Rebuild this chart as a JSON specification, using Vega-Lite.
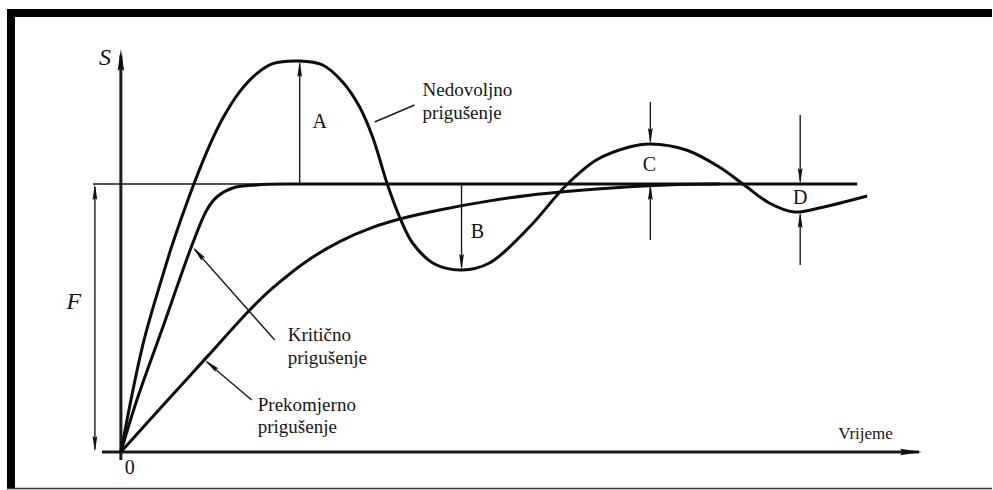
{
  "$schema": "https://vega.github.io/schema/vega-lite/v6.json",
  "width": 993,
  "height": 490,
  "autosize": {"type": "fit", "contains": "padding"},
  "padding": 0,
  "background": "white",
  "config": {"view": {"stroke": null}, "text": {"font": "Liberation Serif"}},
  "datasets": {
    "frame": [
      {"part": "left", "t": -1.14, "t2": -1.06, "s": -0.1343, "s2": 1.653},
      {"part": "top", "t": -1.14, "t2": 8.72, "s": 1.6231, "s2": 1.653}
    ],
    "curves": [
      {"curve": "Nedovoljno", "t": 0, "s": 0},
      {"curve": "Nedovoljno", "t": 0.22, "s": 0.4},
      {"curve": "Nedovoljno", "t": 0.42, "s": 0.66},
      {"curve": "Nedovoljno", "t": 0.52, "s": 0.78},
      {"curve": "Nedovoljno", "t": 0.69, "s": 0.96},
      {"curve": "Nedovoljno", "t": 0.86, "s": 1.12},
      {"curve": "Nedovoljno", "t": 1.02, "s": 1.245},
      {"curve": "Nedovoljno", "t": 1.19, "s": 1.345},
      {"curve": "Nedovoljno", "t": 1.36, "s": 1.412},
      {"curve": "Nedovoljno", "t": 1.52, "s": 1.449},
      {"curve": "Nedovoljno", "t": 1.79, "s": 1.459},
      {"curve": "Nedovoljno", "t": 2.02, "s": 1.444},
      {"curve": "Nedovoljno", "t": 2.22, "s": 1.3806},
      {"curve": "Nedovoljno", "t": 2.39, "s": 1.2873},
      {"curve": "Nedovoljno", "t": 2.52, "s": 1.1754},
      {"curve": "Nedovoljno", "t": 2.67, "s": 0.9963},
      {"curve": "Nedovoljno", "t": 2.79, "s": 0.8769},
      {"curve": "Nedovoljno", "t": 2.92, "s": 0.7799},
      {"curve": "Nedovoljno", "t": 3.14, "s": 0.7014},
      {"curve": "Nedovoljno", "t": 3.41, "s": 0.6791},
      {"curve": "Nedovoljno", "t": 3.69, "s": 0.7052},
      {"curve": "Nedovoljno", "t": 4.09, "s": 0.8396},
      {"curve": "Nedovoljno", "t": 4.46, "s": 0.9963},
      {"curve": "Nedovoljno", "t": 4.76, "s": 1.0896},
      {"curve": "Nedovoljno", "t": 5.09, "s": 1.1381},
      {"curve": "Nedovoljno", "t": 5.3, "s": 1.1493},
      {"curve": "Nedovoljno", "t": 5.66, "s": 1.1269},
      {"curve": "Nedovoljno", "t": 5.99, "s": 1.0634},
      {"curve": "Nedovoljno", "t": 6.24, "s": 0.9963},
      {"curve": "Nedovoljno", "t": 6.49, "s": 0.9291},
      {"curve": "Nedovoljno", "t": 6.74, "s": 0.8955},
      {"curve": "Nedovoljno", "t": 6.99, "s": 0.9104},
      {"curve": "Nedovoljno", "t": 7.47, "s": 0.9552},
      {"curve": "Kriticno", "t": 0, "s": 0},
      {"curve": "Kriticno", "t": 0.16, "s": 0.194},
      {"curve": "Kriticno", "t": 0.41, "s": 0.4552},
      {"curve": "Kriticno", "t": 0.72, "s": 0.7799},
      {"curve": "Kriticno", "t": 0.86, "s": 0.903},
      {"curve": "Kriticno", "t": 0.96, "s": 0.9515},
      {"curve": "Kriticno", "t": 1.12, "s": 0.9851},
      {"curve": "Kriticno", "t": 1.36, "s": 0.9963},
      {"curve": "Kriticno", "t": 1.79, "s": 1.0},
      {"curve": "Kriticno", "t": 4.5, "s": 1.0},
      {"curve": "Kriticno", "t": 7.37, "s": 1.0},
      {"curve": "Prekomjerno", "t": 0, "s": 0},
      {"curve": "Prekomjerno", "t": 0.47, "s": 0.194},
      {"curve": "Prekomjerno", "t": 0.86, "s": 0.354},
      {"curve": "Prekomjerno", "t": 1.29, "s": 0.53},
      {"curve": "Prekomjerno", "t": 1.52, "s": 0.612},
      {"curve": "Prekomjerno", "t": 1.86, "s": 0.712},
      {"curve": "Prekomjerno", "t": 2.19, "s": 0.785},
      {"curve": "Prekomjerno", "t": 2.52, "s": 0.838},
      {"curve": "Prekomjerno", "t": 2.82, "s": 0.872},
      {"curve": "Prekomjerno", "t": 3.19, "s": 0.903},
      {"curve": "Prekomjerno", "t": 3.69, "s": 0.937},
      {"curve": "Prekomjerno", "t": 4.09, "s": 0.958},
      {"curve": "Prekomjerno", "t": 4.46, "s": 0.972},
      {"curve": "Prekomjerno", "t": 5.09, "s": 0.99},
      {"curve": "Prekomjerno", "t": 5.59, "s": 0.998},
      {"curve": "Prekomjerno", "t": 5.99, "s": 1.0}
    ],
    "segments": [
      {"name": "S os", "kind": "axis", "t": 0, "s": -0.0299, "t2": 0, "s2": 1.48},
      {"name": "vrijeme os", "kind": "axis", "t": -0.19, "s": 0, "t2": 7.99, "s2": 0},
      {"name": "F", "kind": "thin", "t": -0.26, "s": 0.01, "t2": -0.26, "s2": 0.99},
      {"name": "F razina", "kind": "thin", "t": -0.28, "s": 1, "t2": 7.37, "s2": 1},
      {"name": "A", "kind": "thin", "t": 1.79, "s": 1, "t2": 1.79, "s2": 1.45},
      {"name": "B", "kind": "thin", "t": 3.41, "s": 1, "t2": 3.41, "s2": 0.69},
      {"name": "C gore", "kind": "thin", "t": 5.3, "s": 1.306, "t2": 5.3, "s2": 1.16},
      {"name": "C dolje", "kind": "thin", "t": 5.3, "s": 0.791, "t2": 5.3, "s2": 0.99},
      {"name": "D gore", "kind": "thin", "t": 6.8, "s": 1.2575, "t2": 6.8, "s2": 1.01},
      {"name": "D dolje", "kind": "thin", "t": 6.8, "s": 0.6978, "t2": 6.8, "s2": 0.885},
      {"name": "Nedovoljno pokazivac", "kind": "thin", "t": 2.54, "s": 1.2313, "t2": 2.94, "s2": 1.2948},
      {"name": "Kriticno pokazivac", "kind": "thin", "t": 0.74, "s": 0.755, "t2": 1.54, "s2": 0.4179},
      {"name": "Prekomjerno pokazivac", "kind": "thin", "t": 0.86, "s": 0.336, "t2": 1.31, "s2": 0.194}
    ],
    "heads": [
      {"kind": "axis", "dir": "up", "t": 0, "s": 1.5037},
      {"kind": "axis", "dir": "right", "t": 8.02, "s": 0},
      {"kind": "thin", "dir": "up", "t": -0.26, "s": 1},
      {"kind": "thin", "dir": "down", "t": -0.26, "s": 0},
      {"kind": "thin", "dir": "up", "t": 1.79, "s": 1.459},
      {"kind": "thin", "dir": "down", "t": 3.41, "s": 0.6791},
      {"kind": "thin", "dir": "down", "t": 5.3, "s": 1.1493},
      {"kind": "thin", "dir": "up", "t": 5.3, "s": 1.0},
      {"kind": "thin", "dir": "down", "t": 6.8, "s": 1.0},
      {"kind": "thin", "dir": "up", "t": 6.8, "s": 0.8955},
      {"kind": "thin", "dir": "upleft41", "t": 0.72, "s": 0.7649},
      {"kind": "thin", "dir": "upleft50", "t": 0.84, "s": 0.3433}
    ],
    "labels": [
      {"role": "var", "label": "S", "t": -0.16, "s": 1.4701},
      {"role": "var", "label": "F", "t": -0.47, "s": 0.5597},
      {"role": "letter", "label": "0", "t": 0.09, "s": -0.0597},
      {"role": "letter", "label": "A", "t": 1.99, "s": 1.2313},
      {"role": "letter", "label": "B", "t": 3.57, "s": 0.8209},
      {"role": "letter", "label": "C", "t": 5.29, "s": 1.0709},
      {"role": "letter", "label": "D", "t": 6.8, "s": 0.9478},
      {"role": "name", "label": "Nedovoljno", "t": 3.02, "s": 1.3507},
      {"role": "name", "label": "prigušenje", "t": 3.02, "s": 1.2649},
      {"role": "name", "label": "Kritično", "t": 1.67, "s": 0.4366},
      {"role": "name", "label": "prigušenje", "t": 1.67, "s": 0.3507},
      {"role": "name", "label": "Prekomjerno", "t": 1.37, "s": 0.1754},
      {"role": "name", "label": "prigušenje", "t": 1.37, "s": 0.0933},
      {"role": "time", "label": "Vrijeme", "t": 7.18, "s": 0.0672}
    ]
  },
  "layer": [
    {
      "data": {"name": "frame"},
      "mark": {"type": "rect", "color": "#000000"},
      "encoding": {
        "x": {"field": "t", "type": "quantitative", "scale": {"domain": [-1.21, 8.72], "nice": false, "zero": false}, "axis": null},
        "x2": {"field": "t2"},
        "y": {"field": "s", "type": "quantitative", "scale": {"domain": [-0.1418, 1.6866], "nice": false, "zero": false}, "axis": null},
        "y2": {"field": "s2"}
      }
    },
    {
      "data": {"values": [{"edge": "bottom", "t": -1.14, "t2": 8.72, "s": -0.1362}]},
      "mark": {"type": "rule", "color": "#333333", "strokeWidth": 1.5},
      "encoding": {
        "x": {"field": "t", "type": "quantitative", "scale": {"domain": [-1.21, 8.72], "nice": false, "zero": false}, "axis": null},
        "x2": {"field": "t2"},
        "y": {"field": "s", "type": "quantitative", "scale": {"domain": [-0.1418, 1.6866], "nice": false, "zero": false}, "axis": null}
      }
    },
    {
      "data": {"name": "segments"},
      "mark": {"type": "rule", "color": "#1a1a1a"},
      "encoding": {
        "x": {"field": "t", "type": "quantitative", "scale": {"domain": [-1.21, 8.72], "nice": false, "zero": false}, "axis": null},
        "x2": {"field": "t2"},
        "y": {"field": "s", "type": "quantitative", "scale": {"domain": [-0.1418, 1.6866], "nice": false, "zero": false}, "axis": null},
        "y2": {"field": "s2"},
        "strokeWidth": {"field": "kind", "type": "nominal", "scale": {"domain": ["axis", "thin"], "range": [3, 1.4]}, "legend": null}
      }
    },
    {
      "data": {"name": "curves"},
      "mark": {"type": "line", "color": "#0d0d0d", "strokeWidth": 3, "interpolate": "catmull-rom"},
      "encoding": {
        "x": {"field": "t", "type": "quantitative", "scale": {"domain": [-1.21, 8.72], "nice": false, "zero": false}, "axis": null},
        "y": {"field": "s", "type": "quantitative", "scale": {"domain": [-0.1418, 1.6866], "nice": false, "zero": false}, "axis": null},
        "detail": {"field": "curve", "type": "nominal"}
      }
    },
    {
      "data": {"name": "heads"},
      "mark": {"type": "point", "filled": true, "color": "#111111", "opacity": 1, "strokeWidth": 0},
      "encoding": {
        "x": {"field": "t", "type": "quantitative", "scale": {"domain": [-1.21, 8.72], "nice": false, "zero": false}, "axis": null},
        "y": {"field": "s", "type": "quantitative", "scale": {"domain": [-0.1418, 1.6866], "nice": false, "zero": false}, "axis": null},
        "shape": {"field": "dir", "type": "nominal", "legend": null, "scale": {
          "domain": ["up", "down", "right", "upleft41", "upleft50"],
          "range": [
            "M0,0L-0.3,2L0,1.75L0.3,2Z",
            "M0,0L-0.3,-2L0,-1.75L0.3,-2Z",
            "M0,0L-2,-0.3L-1.75,0L-2,0.3Z",
            "M0,0L1.086,1.706L1.148,1.321L1.539,1.313Z",
            "M0,0L1.339,1.515L1.341,1.125L1.725,1.056Z"
          ]}},
        "size": {"field": "kind", "type": "nominal", "scale": {"domain": ["axis", "thin"], "range": [484, 256]}, "legend": null}
      }
    },
    {
      "data": {"name": "labels"},
      "transform": [{"filter": "datum.role === 'var'"}],
      "mark": {"type": "text", "font": "Liberation Serif", "fontStyle": "italic", "fontSize": 24, "color": "#111111", "align": "center", "baseline": "middle"},
      "encoding": {
        "x": {"field": "t", "type": "quantitative", "scale": {"domain": [-1.21, 8.72], "nice": false, "zero": false}, "axis": null},
        "y": {"field": "s", "type": "quantitative", "scale": {"domain": [-0.1418, 1.6866], "nice": false, "zero": false}, "axis": null},
        "text": {"field": "label"}
      }
    },
    {
      "data": {"name": "labels"},
      "transform": [{"filter": "datum.role === 'letter'"}],
      "mark": {"type": "text", "font": "Liberation Serif", "fontSize": 20, "color": "#111111", "align": "center", "baseline": "middle"},
      "encoding": {
        "x": {"field": "t", "type": "quantitative", "scale": {"domain": [-1.21, 8.72], "nice": false, "zero": false}, "axis": null},
        "y": {"field": "s", "type": "quantitative", "scale": {"domain": [-0.1418, 1.6866], "nice": false, "zero": false}, "axis": null},
        "text": {"field": "label"}
      }
    },
    {
      "data": {"name": "labels"},
      "transform": [{"filter": "datum.role === 'name'"}],
      "mark": {"type": "text", "font": "Liberation Serif", "fontSize": 19, "color": "#161616", "align": "left", "baseline": "middle"},
      "encoding": {
        "x": {"field": "t", "type": "quantitative", "scale": {"domain": [-1.21, 8.72], "nice": false, "zero": false}, "axis": null},
        "y": {"field": "s", "type": "quantitative", "scale": {"domain": [-0.1418, 1.6866], "nice": false, "zero": false}, "axis": null},
        "text": {"field": "label"}
      }
    },
    {
      "data": {"name": "labels"},
      "transform": [{"filter": "datum.role === 'time'"}],
      "mark": {"type": "text", "font": "Liberation Serif", "fontSize": 17, "color": "#161616", "align": "left", "baseline": "middle"},
      "encoding": {
        "x": {"field": "t", "type": "quantitative", "scale": {"domain": [-1.21, 8.72], "nice": false, "zero": false}, "axis": null},
        "y": {"field": "s", "type": "quantitative", "scale": {"domain": [-0.1418, 1.6866], "nice": false, "zero": false}, "axis": null},
        "text": {"field": "label"}
      }
    }
  ]
}
